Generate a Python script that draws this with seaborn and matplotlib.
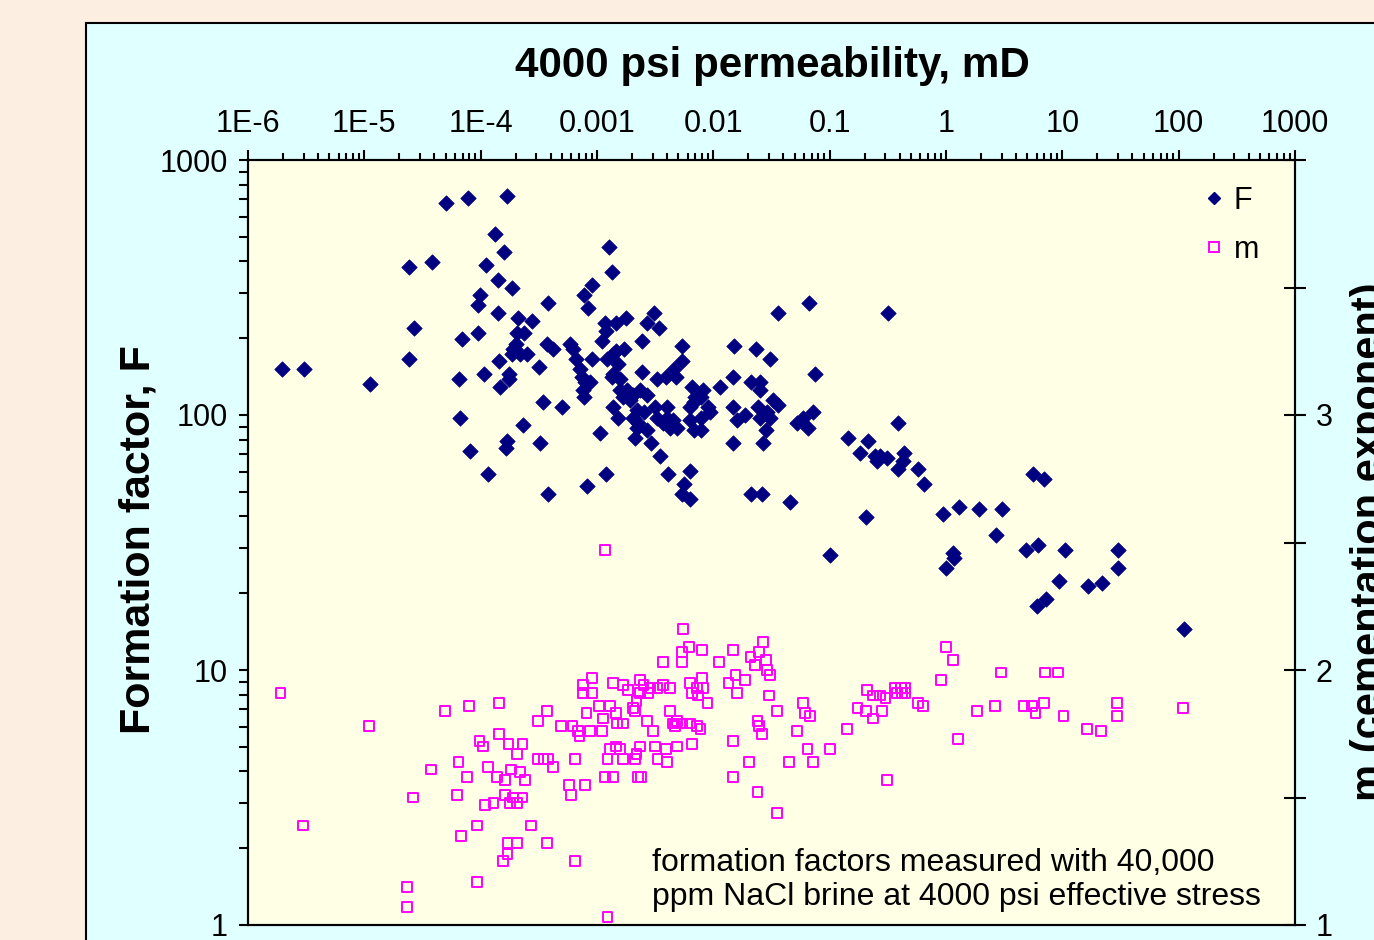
import numpy as np
import matplotlib
matplotlib.use("Agg")
import matplotlib.pyplot as plt
from matplotlib.patches import Rectangle
from matplotlib.lines import Line2D
from matplotlib.ticker import FixedLocator, LogLocator, NullFormatter
import seaborn as sns

# values: log10(permeability, mD) and log10(F)
log_perm_F = [
    -5.71, -5.52, -4.95, -4.62, -4.42, -4.62, -4.57, -4.30, -4.11, -3.77,
    -3.88, -3.80, -3.95, -3.85, -3.73, -4.01, -4.02, -3.85, -3.68, -3.56,
    -3.42, -4.16, -4.02, -3.69, -3.63, -3.70, -3.72, -3.73, -3.66, -3.60,
    -3.84, -3.50, -3.43, -3.38, -4.19, -3.97, -3.76, -3.76, -3.83, -3.46,
    -3.30, -4.18, -3.64, -3.77, -3.78, -3.49, -4.09, -3.94, -3.42, -3.09,
    -2.92, -2.97, -3.23, -3.21, -3.18, -3.15, -3.13, -3.10, -3.06, -3.12,
    -3.04, -3.11, -2.90, -2.87, -3.04, -3.11, -3.08, -2.75, -2.84, -2.93,
    -2.92, -2.96, -2.51, -2.57, -2.47, -2.61, -2.77, -2.84, -2.91, -2.82,
    -2.86, -2.80, -2.74, -2.80, -2.69, -2.63, -2.61, -2.57, -2.87, -2.78,
    -2.72, -2.86, -2.27, -2.27, -2.34, -2.32, -2.41, -2.48, -2.18, -2.09,
    -2.11, -2.17, -2.05, -2.03, -2.11, -2.86, -2.82, -2.66, -2.60, -2.69,
    -2.65, -2.66, -2.57, -2.67, -2.50, -2.48, -2.40, -2.40, -2.43, -2.35,
    -2.31, -2.37, -2.20, -2.16, -2.20, -2.17, -2.11, -2.54, -2.46, -2.39,
    -2.20, -2.25, -2.27, -2.20, -1.94, -1.82, -1.63, -1.51, -1.83, -1.68,
    -1.60, -1.60, -1.83, -1.80, -1.73, -1.62, -1.60, -1.54, -1.49, -1.44,
    -1.51, -1.55, -1.57, -1.83, -1.28, -1.23, -1.19, -1.14, -0.84, -0.67,
    -0.41, -1.44, -1.18, -0.50, -1.13, -1.68, -1.58, -1.34, -0.74, -0.61,
    -0.57, -0.51, -0.59, -0.36, -0.37, -0.41, -0.24, -0.19, -0.69, -1.00,
    -0.03, 0.11, 0.28, 0.48, 0.43, 0.75, 0.84, 0.69, 0.79, 1.02,
    0.06, 0.07, 0.00, 1.48, 1.48, 0.97, 1.22, 1.34, 0.78, 0.86,
    2.05,
]
log_F = [
    2.18, 2.18, 2.12, 2.58, 2.60, 2.22, 2.34, 2.83, 2.85, 2.86,
    2.71, 2.64, 2.59, 2.53, 2.50, 2.47, 2.43, 2.40, 2.38, 2.37,
    2.44, 2.30, 2.32, 2.32, 2.32, 2.28, 2.26, 2.24, 2.24, 2.24,
    2.21, 2.19, 2.28, 2.26, 2.14, 2.16, 2.16, 2.14, 2.11, 2.05,
    2.03, 1.99, 1.96, 1.90, 1.87, 1.89, 1.86, 1.77, 1.69, 1.72,
    1.77, 1.93, 2.28, 2.26, 2.22, 2.18, 2.15, 2.13, 2.13, 2.10,
    2.22, 2.07, 2.66, 2.56, 2.51, 2.47, 2.42, 2.38, 2.36, 2.36,
    2.33, 2.29, 2.40, 2.36, 2.34, 2.29, 2.26, 2.25, 2.22, 2.20,
    2.16, 2.14, 2.10, 2.10, 2.08, 2.10, 2.17, 2.08, 2.15, 2.07,
    2.06, 2.24, 2.27, 2.21, 2.18, 2.15, 2.15, 2.14, 2.11, 2.10,
    2.07, 2.05, 2.03, 2.01, 1.99, 2.03, 1.99, 2.02, 2.01, 1.99,
    1.97, 1.95, 1.94, 1.91, 2.03, 1.99, 2.03, 1.99, 1.97, 1.98,
    1.95, 1.95, 2.03, 2.07, 1.98, 1.94, 1.94, 1.89, 1.84, 1.77,
    1.78, 1.73, 1.69, 1.67, 2.11, 2.27, 2.26, 2.22, 2.15, 2.13,
    2.13, 2.10, 2.03, 1.98, 2.00, 2.03, 1.99, 2.01, 2.06, 2.04,
    1.99, 1.94, 1.89, 1.89, 1.97, 1.99, 1.95, 2.01, 1.91, 1.90,
    1.97, 2.40, 2.44, 2.40, 2.16, 1.69, 1.69, 1.66, 1.85, 1.84,
    1.84, 1.83, 1.82, 1.85, 1.82, 1.79, 1.79, 1.73, 1.60, 1.45,
    1.61, 1.64, 1.63, 1.63, 1.53, 1.77, 1.75, 1.47, 1.49, 1.47,
    1.46, 1.44, 1.40, 1.47, 1.40, 1.35, 1.33, 1.34, 1.25, 1.28,
    1.16,
]

# log10(permeability, mD) and cementation exponent m
log_perm_m = [
    -5.72, -5.53, -4.96, -4.63, -4.63, -4.31, -4.10, -3.84, -4.43, -4.58,
    -4.19, -4.12, -4.20, -4.03, -4.17, -4.03, -4.01, -3.98, -3.84, -3.76,
    -3.64, -3.69, -3.94, -3.86, -3.79, -3.74, -3.66, -3.62, -3.79, -3.72,
    -3.64, -3.75, -3.69, -3.96, -3.89, -3.57, -3.77, -3.69, -3.77, -3.81,
    -3.43, -3.19, -3.51, -3.43, -3.31, -3.21, -3.16, -3.06, -2.96, -3.15,
    -3.51, -3.46, -3.42, -3.38, -3.19, -3.24, -3.10, -3.22, -3.09, -3.12,
    -3.12, -3.04, -3.04, -2.98, -2.89, -2.86, -2.78, -2.73, -2.95, -2.84,
    -2.83, -2.78, -2.69, -2.67, -2.91, -2.89, -2.80, -2.78, -2.67, -2.93,
    -2.86, -2.65, -2.91, -2.93, -2.26, -2.27, -2.21, -2.10, -2.43, -2.27,
    -1.83, -1.95, -1.57, -1.61, -1.68, -1.64, -1.55, -1.54, -1.51, -2.63,
    -2.60, -2.54, -2.48, -2.43, -2.37, -2.56, -2.63, -2.20, -2.14, -2.10,
    -2.09, -2.18, -2.13, -2.05, -1.87, -1.81, -1.73, -1.80, -1.52, -1.45,
    -2.66, -2.57, -2.52, -2.37, -2.35, -2.31, -2.33, -2.27, -2.20, -2.14,
    -2.11, -2.84, -2.66, -2.63, -2.50, -2.41, -2.48, -2.40, -2.31, -2.18,
    -2.62, -1.83, -1.83, -1.69, -1.62, -1.45, -1.62, -1.61, -1.58, -1.28,
    -1.23, -1.21, -1.17, -1.35, -1.19, -1.14, -1.00, -0.85, -0.76, -0.69,
    -0.68, -0.63, -0.57, -0.52, -0.55, -0.63, -0.44, -0.39, -0.35, -0.42,
    -0.38, -0.35, -0.24, -0.20, -0.51, 0.00, 0.06, -0.04, 0.27, 0.10,
    0.42, 0.47, 0.67, 0.74, 0.77, 0.84, 0.85, 0.96, 1.01, 1.21,
    1.33, 1.47, 1.47, 2.04,
]
m_vals = [
    1.91, 1.39, 1.78, 1.15, 1.07, 1.84, 1.86, 1.87, 1.61, 1.50,
    1.64, 1.58, 1.51, 1.39, 1.35, 1.17, 1.72, 1.70, 1.75, 1.71,
    1.71, 1.67, 1.62, 1.58, 1.57, 1.61, 1.60, 1.57, 1.51, 1.50,
    1.50, 1.48, 1.48, 1.47, 1.48, 1.39, 1.32, 1.32, 1.28, 1.25,
    1.32, 1.25, 1.80, 1.84, 1.78, 1.78, 1.76, 1.76, 1.76, 1.74,
    1.65, 1.65, 1.65, 1.62, 1.65, 1.55, 1.55, 1.51, 1.83, 1.94,
    1.91, 1.97, 1.91, 1.86, 1.86, 1.95, 1.94, 1.92, 1.81, 1.83,
    1.79, 1.79, 1.85, 1.84, 1.65, 1.69, 1.69, 1.65, 1.65, 1.58,
    1.58, 1.58, 1.03, 2.47, 2.16, 2.07, 2.09, 2.08, 2.03, 2.03,
    2.08, 2.03, 2.11, 2.07, 2.05, 2.02, 2.04, 2.00, 1.98, 1.96,
    1.94, 1.93, 1.93, 1.94, 1.93, 1.91, 1.91, 1.95, 1.93, 1.97,
    1.93, 1.91, 1.90, 1.87, 1.95, 1.98, 1.96, 1.91, 1.90, 1.84,
    1.88, 1.80, 1.76, 1.84, 1.79, 1.80, 1.78, 1.79, 1.79, 1.78,
    1.77, 1.70, 1.67, 1.70, 1.70, 1.69, 1.65, 1.64, 1.70, 1.71,
    1.58, 1.72, 1.58, 1.64, 1.52, 1.44, 1.80, 1.78, 1.75, 1.76,
    1.87, 1.83, 1.82, 1.64, 1.69, 1.64, 1.69, 1.77, 1.85, 1.84,
    1.92, 1.90, 1.90, 1.89, 1.84, 1.81, 1.93, 1.93, 1.93, 1.91,
    1.91, 1.91, 1.87, 1.86, 1.57, 2.09, 2.04, 1.96, 1.84, 1.73,
    1.86, 1.99, 1.86, 1.86, 1.83, 1.87, 1.99, 1.99, 1.82, 1.77,
    1.76, 1.87, 1.82, 1.85,
]

perm_ticks = [1e-6, 1e-5, 1e-4, 1e-3, 1e-2, 1e-1, 1, 10, 100, 1000]
perm_labels = ['1E-6', '1E-5', '1E-4', '0.001', '0.01', '0.1', '1', '10', '100', '1000']
F_ticks = [1, 10, 100, 1000]
F_labels = ['1', '10', '100', '1000']
m_ticks = [1, 1.5, 2, 2.5, 3, 3.5, 4]
m_labels = ['1', '', '2', '', '3', '', '']

perm_F = 10 ** np.array(log_perm_F)
F_vals = 10 ** np.array(log_F)
perm_m = 10 ** np.array(log_perm_m)

sns.set_style('ticks')
plt.rcParams['font.family'] = ['Liberation Sans', 'DejaVu Sans']
plt.rcParams['text.color'] = 'black'
plt.rcParams['xtick.color'] = 'black'
plt.rcParams['ytick.color'] = 'black'
plt.rcParams['axes.labelcolor'] = 'black'

navy = '#000080'
magenta = '#FF00FF'

fig = plt.figure(figsize=(13.74, 9.40), dpi=100, facecolor='#FDEEE2')
# light cyan chart panel
fig.add_artist(Rectangle((86 / 1374, -0.05), 1.0, 1.05 - 23 / 940,
                         transform=fig.transFigure, facecolor='#E0FFFF',
                         edgecolor='black', linewidth=1.5, zorder=-1))

ax = fig.add_axes([248 / 1374, 1 - 925 / 940, 1047 / 1374, 765 / 940])
ax.set_facecolor('#FFFFE5')

sns.scatterplot(x=perm_F, y=F_vals, ax=ax, marker='D', s=62,
                color=navy, edgecolor=navy, linewidth=0.5, zorder=3)
ax.set_xscale('log')
ax.set_yscale('log')
ax.set_xlim(1e-6, 1e3)
ax.set_ylim(1, 1000)
ax.set_xlabel('')
ax.set_ylabel('')

ax.xaxis.tick_top()
ax.xaxis.set_major_locator(FixedLocator(perm_ticks))
ax.set_xticklabels(perm_labels)
ax.xaxis.set_minor_locator(LogLocator(base=10, subs=np.arange(2, 10), numticks=20))
ax.xaxis.set_minor_formatter(NullFormatter())
ax.yaxis.set_major_locator(FixedLocator(F_ticks))
ax.set_yticklabels(F_labels)
ax.yaxis.set_minor_locator(LogLocator(base=10, subs=np.arange(2, 10), numticks=20))
ax.yaxis.set_minor_formatter(NullFormatter())

ax.tick_params(axis='x', which='major', top=True, bottom=False, labeltop=True,
               labelbottom=False, direction='out', length=7, width=1.5,
               labelsize=22, pad=8)
ax.tick_params(axis='x', which='minor', top=True, bottom=False,
               direction='out', length=5, width=1.5)
ax.tick_params(axis='y', which='both', left=True, right=False, direction='out',
               length=6.5, width=1.5, labelsize=22, pad=8)
for sp in ax.spines.values():
    sp.set_visible(True)
    sp.set_linewidth(1.5)
    sp.set_color('black')

ax2 = ax.twinx()
sns.scatterplot(x=perm_m, y=m_vals, ax=ax2, marker='s', s=50,
                color=magenta, facecolor='none', edgecolor=magenta,
                linewidth=1.4, zorder=3)
ax2.set_ylim(1, 4)
ax2.set_ylabel('')
ax2.yaxis.set_major_locator(FixedLocator(m_ticks))
ax2.set_yticklabels(m_labels)
ax2.tick_params(axis='y', which='major', direction='inout', length=16,
                width=1.5, labelsize=22, pad=7)
for sp in ax2.spines.values():
    sp.set_linewidth(1.5)
    sp.set_color('black')

handles = [
    Line2D([], [], linestyle='none', marker='D', markersize=6.6,
           color=navy, markeredgecolor=navy),
    Line2D([], [], linestyle='none', marker='s', markersize=6.8,
           markerfacecolor='none', markeredgecolor=magenta, markeredgewidth=1.4),
]
ax2.legend(handles, ['F', 'm'], loc='upper right', frameon=False,
           bbox_to_anchor=((1259 - 248) / 1047, (925 - 186) / 765),
           borderaxespad=0, borderpad=0, fontsize=22, handlelength=1.0,
           handletextpad=0.15, labelspacing=0.62)

ax.text((652 - 248) / 1047, (925 - 905) / 765,
        'formation factors measured with 40,000\nppm NaCl brine at 4000 psi effective stress',
        transform=ax.transAxes, fontsize=23, va='baseline', ha='left',
        linespacing=1.16, zorder=5)

fig.text(772 / 1374, 1 - 77 / 940, '4000 psi permeability, mD',
         ha='center', va='baseline', fontsize=30.3, fontweight='bold')
fig.text(118 / 1374, 1 - 540 / 940, 'Formation factor, F', rotation=90,
         ha='left', va='center', fontsize=31, fontweight='bold')
fig.text(1350 / 1374, 1 - 542 / 940, 'm (cementation exponent)', rotation=90,
         ha='left', va='center', fontsize=30, fontweight='bold')

fig.savefig('out.png', dpi=100, facecolor=fig.get_facecolor())
